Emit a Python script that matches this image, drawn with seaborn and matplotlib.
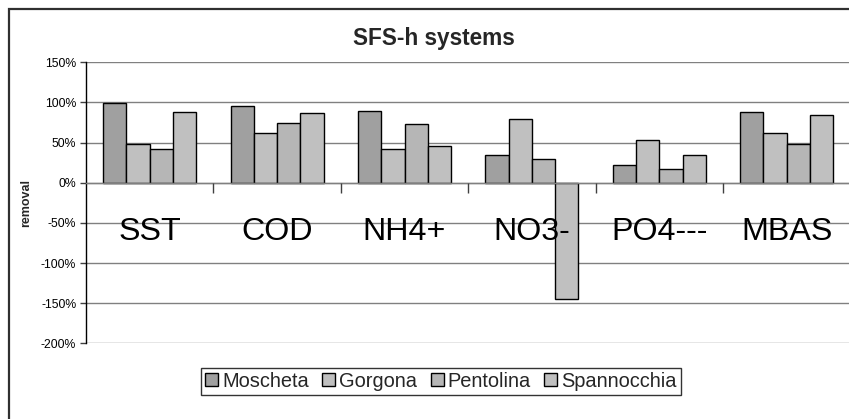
import matplotlib
matplotlib.use("Agg")
from matplotlib import pyplot as plt
from matplotlib.patches import Patch, Rectangle
from matplotlib.ticker import FixedLocator, PercentFormatter
import seaborn as sns
import pandas as pd
import numpy as np

# data (removal in %)
categories = ["SST", "COD", "NH4+", "NO3-", "PO4---", "MBAS"]
systems = ["Moscheta", "Gorgona", "Pentolina", "Spannocchia"]
moscheta = [99, 96, 89, 34, 22, 88]
gorgona = [48, 62, 42, 80, 53, 62]
pentolina = [42, 75, 73, 29, 17, 48]
spannocchia = [88, 87, 46, -145, 34, 84]
colors = ["#a0a0a0", "#c0c0c0", "#b6b6b6", "#c0c0c0"]

yticks = [-200, -150, -100, -50, 0, 50, 100, 150]

rows = []
for name, vals in zip(systems, [moscheta, gorgona, pentolina, spannocchia]):
    for cat, v in zip(categories, vals):
        rows.append({"Category": cat, "System": name, "Removal": v})
df = pd.DataFrame(rows)

sns.set_style("white")
plt.rcParams["font.family"] = ["Liberation Sans", "DejaVu Sans"]
plt.rcParams["axes.unicode_minus"] = False

W, H = 849, 419
fig = plt.figure(figsize=(W / 100, H / 100), dpi=100)
fig.patch.set_facecolor("white")

# plot area in pixels: left 86, top 62.3, bottom 343.4, category width 127.4
left, top, bottom, catw = 86, 62.3, 343.4, 127.4
ax = fig.add_axes([left / W, 1 - bottom / H, 6 * catw / W, (bottom - top) / H])

sns.barplot(data=df, x="Category", y="Removal", hue="System", order=categories,
            hue_order=systems, palette=colors, width=0.73, gap=0,
            edgecolor="black", linewidth=1.0, legend=False, ax=ax, saturation=1)

ax.set_xlim(-0.5, len(categories) - 0.5)
ax.set_ylim(-200, 150)
ax.set_yticks(yticks)
ax.yaxis.set_major_formatter(PercentFormatter(decimals=0))
ax.yaxis.grid(True, color="#808080", linewidth=1.0)
ax.set_axisbelow(True)
# category labels sit on top of the bars, as in the reference
ax.xaxis.set_zorder(5)

for s in ["top", "right"]:
    ax.spines[s].set_visible(False)
ax.spines["left"].set_color("black")
ax.spines["left"].set_linewidth(1.0)
ax.spines["bottom"].set_position(("data", 0))
ax.spines["bottom"].set_color("#808080")
ax.spines["bottom"].set_linewidth(1.0)

ax.tick_params(axis="y", left=True, length=4, width=1, color="#404040",
               pad=3, labelsize=8.8, labelcolor="black")
ax.tick_params(axis="x", which="major", bottom=True, length=0, pad=25,
               labelsize=23.2, labelcolor="black")
ax.xaxis.set_minor_locator(FixedLocator(np.arange(len(categories) - 1) + 0.5))
ax.tick_params(axis="x", which="minor", bottom=True, length=7, width=1,
               color="#404040")

ax.set_xlabel("")
ax.set_ylabel("removal", fontsize=9, fontweight="bold")
ax.yaxis.set_label_coords(-0.0706, 0.5)

fig.text(434 / W, 1 - 45 / H, "SFS-h systems", ha="center", va="baseline",
         fontsize=16.3, fontweight="bold")

handles = [Patch(facecolor=c, edgecolor="black", linewidth=1.0) for c in colors]
leg = ax.legend(handles, systems, loc="center", bbox_to_anchor=(441 / W, 1 - 381 / H),
                bbox_transform=fig.transFigure, ncol=4, fontsize=14.4, frameon=True,
                fancybox=False, edgecolor="black", handlelength=0.65, handleheight=0.65,
                handletextpad=0.2, columnspacing=0.67, borderpad=0.2, borderaxespad=0)
leg.get_frame().set_linewidth(1.0)

# chart area frame (cropped at right and bottom in the reference)
fig.add_artist(Rectangle((9 / W, -0.2), 1.5, 1.2 - 9 / H, transform=fig.transFigure,
                         fill=False, edgecolor="#303030", linewidth=1.6))

fig.savefig("out.png", dpi=100)
